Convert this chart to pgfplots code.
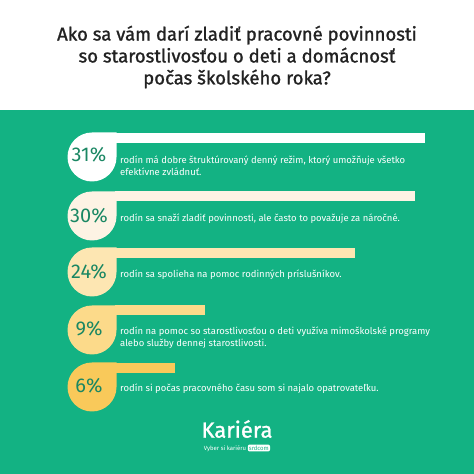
\documentclass[border=0pt]{standalone}
\usepackage{pgfplots}
\pgfplotsset{compat=1.18}
\usepackage{fontspec}
\setmainfont{Fira Sans}
\newfontfamily\titlefont[FakeBold=1.2]{Fira Sans}
\definecolor{bg}{HTML}{13B283}
\definecolor{pct}{HTML}{1A8763}
\definecolor{c1}{HTML}{FFFFFF}
\definecolor{c2}{HTML}{FDF3E4}
\definecolor{c3}{HTML}{FDE6B2}
\definecolor{c4}{HTML}{FCDA8A}
\definecolor{c5}{HTML}{F9C95A}
\definecolor{ttl}{HTML}{222222}
\pgfdeclareplotmark{drop}{%
  \pgfpathmoveto{\pgfqpoint{0pt}{\pgfplotmarksize}}%
  \pgfpathlineto{\pgfqpoint{\pgfplotmarksize}{\pgfplotmarksize}}%
  \pgfpathlineto{\pgfqpoint{\pgfplotmarksize}{0pt}}%
  \pgfpatharc{0}{-270}{\pgfplotmarksize}%
  \pgfpathclose
  \pgfusepathqfill
}
\begin{document}
\begin{tikzpicture}
\fill[white] (0,0) rectangle (474bp,474bp);
\fill[bg] (0,0) rectangle (474bp,364bp);
\node[font=\titlefont\fontsize{18.6}{22}\selectfont, text=ttl, align=center] at (237bp,417bp)
  {Ako sa vám darí zladiť pracovné povinnosti\\so starostlivosťou o deti a domácnosť\\počas školského roka?};
\begin{axis}[at={(0,0)}, anchor=south west, scale only axis,
  width=474bp, height=474bp, hide axis, clip=false,
  xmin=-11.5, xmax=35.9, ymin=0, ymax=474]
% bars (value, y position)
\addplot[xbar, bar width=10, bar shift=0pt, fill=c1, draw=none] coordinates {(31,336)};
\addplot[xbar, bar width=10, bar shift=0pt, fill=c2, draw=none] coordinates {(30,277.5)};
\addplot[xbar, bar width=10, bar shift=0pt, fill=c3, draw=none] coordinates {(24,221)};
\addplot[xbar, bar width=10, bar shift=0pt, fill=c4, draw=none] coordinates {(9,163.5)};
\addplot[xbar, bar width=10, bar shift=0pt, fill=c5, draw=none] coordinates {(6,106)};
% drops
\addplot[only marks, mark=drop, mark size=24.5bp, color=c1] coordinates {(-2.3,317)};
\addplot[only marks, mark=drop, mark size=24.5bp, color=c2] coordinates {(-2.3,258)};
\addplot[only marks, mark=drop, mark size=24.5bp, color=c3] coordinates {(-2.3,202)};
\addplot[only marks, mark=drop, mark size=24.5bp, color=c4] coordinates {(-2.3,144)};
\addplot[only marks, mark=drop, mark size=24.5bp, color=c5] coordinates {(-2.3,87)};
\tikzset{lab/.style={font=\fontsize{9.5}{12.5}\selectfont, text=white, anchor=west, align=left, inner sep=0pt}}
\coordinate (p1) at (axis cs:-2.6,319);
\coordinate (p2) at (axis cs:-2.6,258.5);
\coordinate (p3) at (axis cs:-2.6,202.5);
\coordinate (p4) at (axis cs:-2.6,145);
\coordinate (p5) at (axis cs:-2.6,88);
\node[lab] at (axis cs:0.5,308.5) {rodín má dobre štruktúrovaný denný režim, ktorý umožňuje všetko\\efektívne zvládnuť.};
\node[lab] at (axis cs:0.5,255) {rodín sa snaží zladiť povinnosti, ale často to považuje za náročné.};
\node[lab] at (axis cs:0.5,199) {rodín sa spolieha na pomoc rodinných príslušníkov.};
\node[lab] at (axis cs:0.5,136.5) {rodín na pomoc so starostlivosťou o deti využíva mimoškolské programy\\alebo služby dennej starostlivosti.};
\node[lab] at (axis cs:0.5,85) {rodín si počas pracovného času som si najalo opatrovateľku.};
\end{axis}
\tikzset{pctl/.style={font=\fontsize{20}{20}\selectfont, text=pct, anchor=center}}
\node[pctl] at (p1) {31\%};
\node[pctl] at (p2) {30\%};
\node[pctl] at (p3) {24\%};
\node[pctl] at (p4) {9\%};
\node[pctl] at (p5) {6\%};
\node[font=\titlefont\fontsize{22}{22}\selectfont, text=white] at (237bp,45bp) {Kariéra};
\node[font=\fontsize{6}{6}\selectfont, text=white, inner sep=0pt] at (237bp,26bp)
  {Vyber si kariéru \tikz[baseline=(s.base)]\node[fill=white, text=bg, rounded corners=2bp, inner sep=1.2bp](s){srdcom};};
\end{tikzpicture}
\end{document}
